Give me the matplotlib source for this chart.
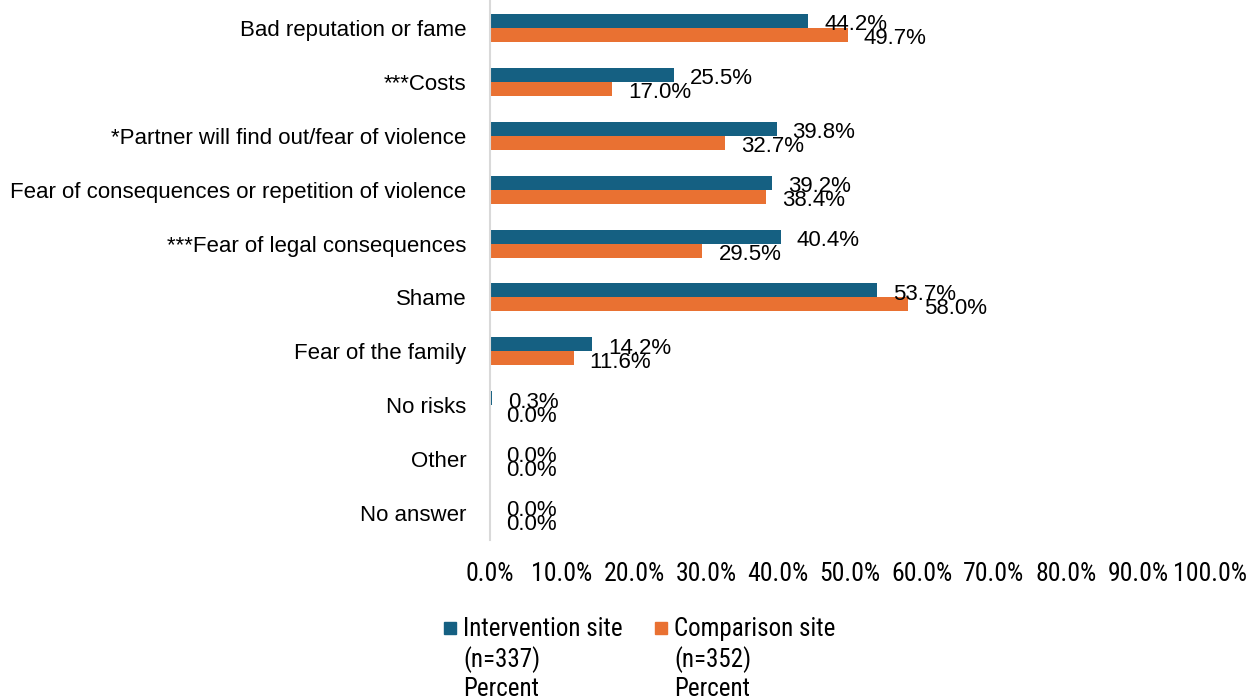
import matplotlib.pyplot as plt
from matplotlib.patches import Rectangle
import numpy as np

categories = [
    "Bad reputation or fame",
    "***Costs",
    "*Partner will find out/fear of violence",
    "Fear of consequences or repetition of violence",
    "***Fear of legal consequences",
    "Shame",
    "Fear of the family",
    "No risks",
    "Other",
    "No answer",
]
intervention = [44.2, 25.5, 39.8, 39.2, 40.4, 53.7, 14.2, 0.3, 0.0, 0.0]
comparison = [49.7, 17.0, 32.7, 38.4, 29.5, 58.0, 11.6, 0.0, 0.0, 0.0]
series_labels = ["Intervention site\n(n=337)\nPercent", "Comparison site\n(n=352)\nPercent"]
xticks = np.arange(0, 101, 10)

BLUE = "#156082"
ORANGE = "#e97132"
MAIN_FONT = "Liberation Sans"
NARROW_FONT = ["Roboto Condensed", "Archivo Narrow", "DejaVu Sans"]

W, H = 1248, 698
fig = plt.figure(figsize=(W / 100, H / 100), dpi=100)
ax = fig.add_axes([490 / W, 1 - 540 / H, 720 / W, 539 / H])

y = np.arange(len(categories))
h = 0.26
ax.barh(y - h / 2, intervention, height=h, color=BLUE)
ax.barh(y + h / 2, comparison, height=h, color=ORANGE)

# value labels just past the end of each bar
for yi, v in zip(y - h / 2, intervention):
    ax.annotate(f"{v:.1f}%", (v, yi), xytext=(16, -4), textcoords="offset pixels",
                va="center", ha="left", fontsize=16, family=MAIN_FONT)
for yi, v in zip(y + h / 2, comparison):
    ax.annotate(f"{v:.1f}%", (v, yi), xytext=(16, -4), textcoords="offset pixels",
                va="center", ha="left", fontsize=16, family=MAIN_FONT)

ax.set_xlim(0, 100)
ax.set_ylim(len(categories) - 0.5, -0.5)
ax.set_yticks(y)
ax.set_yticklabels(categories, fontsize=16, family=MAIN_FONT)
ax.set_xticks(xticks)
ax.set_xticklabels([f"{t:.1f}%" for t in xticks], fontsize=18.5, family=NARROW_FONT)
ax.tick_params(axis="y", length=0, pad=17)
ax.tick_params(axis="x", length=0, pad=16)

for side in ["top", "right", "bottom"]:
    ax.spines[side].set_visible(False)
ax.spines["left"].set_color("#d9d9d9")
ax.spines["left"].set_linewidth(1.5)

# legend drawn below the axis
legend_x = [444, 655]
for lx, color, label in zip(legend_x, [BLUE, ORANGE], series_labels):
    fig.add_artist(Rectangle((lx / W, 1 - 634 / H), 12 / W, 12 / H,
                             transform=fig.transFigure, color=color))
    fig.text((lx + 19) / W, 1 - 617 / H, label, fontsize=18, family=NARROW_FONT,
             va="top", ha="left", linespacing=1.24)

fig.savefig("out.png", dpi=100)
